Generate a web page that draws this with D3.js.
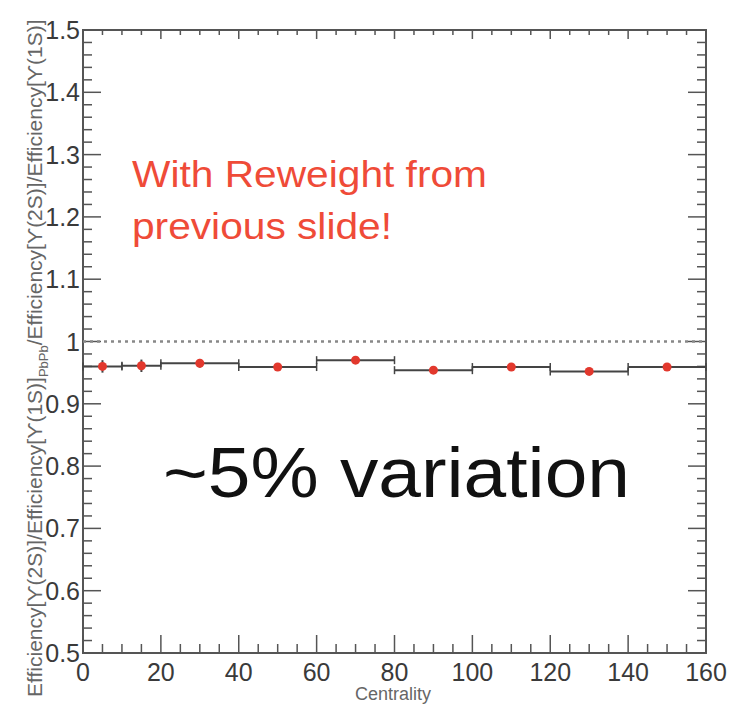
<!DOCTYPE html>
<html>
<head>
<meta charset="utf-8">
<script src="https://cdn.jsdelivr.net/npm/d3@7"></script>
<style>
  body { margin: 0; background: #fff; }
  svg { font-family: "Liberation Sans", Arial, sans-serif; }
</style>
</head>
<body>
<svg id="chart" width="731" height="707"></svg>
<script>
// data
var binLo = [0, 10, 20, 40, 60, 80, 100, 120, 140];
var binHi = [10, 20, 40, 60, 80, 100, 120, 140, 160];
var centers = [5, 15, 30, 50, 70, 90, 110, 130, 150];
var ratio = [0.960, 0.961, 0.965, 0.959, 0.970, 0.954, 0.959, 0.952, 0.959];
var yErr = [0.010, 0.010, 0.007, 0.006, 0.005, 0.004, 0.004, 0.004, 0.004];
var xTicks = [0, 20, 40, 60, 80, 100, 120, 140, 160];
var yTicks = [0.5, 0.6, 0.7, 0.8, 0.9, 1, 1.1, 1.2, 1.3, 1.4, 1.5];

var mLeft = 83, mRight = 706, mTop = 30, mBottom = 653;

var svg = d3.select("#chart");

var x = d3.scaleLinear().domain([0, 160]).range([mLeft, mRight]);
var y = d3.scaleLinear().domain([0.5, 1.5]).range([mBottom, mTop]);

var axisColor = "#555";
var g = svg.append("g");

// frame
g.append("rect")
  .attr("x", mLeft).attr("y", mTop)
  .attr("width", mRight - mLeft).attr("height", mBottom - mTop)
  .attr("fill", "none").attr("stroke", axisColor).attr("stroke-width", 2);

// x ticks (bottom inward, top short)
var xMinor = d3.range(0, 161, 5);
g.selectAll(".xt").data(xMinor).enter().append("line")
  .attr("x1", function(d) { return x(d); })
  .attr("x2", function(d) { return x(d); })
  .attr("y1", mBottom)
  .attr("y2", function(d) { return d % 20 === 0 ? mBottom - 18 : mBottom - 9; })
  .attr("stroke", axisColor).attr("stroke-width", 1.5);
g.selectAll(".xtt").data(xMinor).enter().append("line")
  .attr("x1", function(d) { return x(d); })
  .attr("x2", function(d) { return x(d); })
  .attr("y1", mTop)
  .attr("y2", function(d) { return d % 20 === 0 ? mTop + 9 : mTop + 5; })
  .attr("stroke", axisColor).attr("stroke-width", 1.5);

// y ticks (left and right, inward)
var yMinor = d3.range(0, 51).map(function(i) { return 0.5 + i * 0.02; });
g.selectAll(".yt").data(yMinor).enter().append("line")
  .attr("y1", function(d) { return y(d); })
  .attr("y2", function(d) { return y(d); })
  .attr("x1", mLeft)
  .attr("x2", function(d, i) { return i % 5 === 0 ? mLeft + 18 : mLeft + 9; })
  .attr("stroke", axisColor).attr("stroke-width", 1.5);
g.selectAll(".ytr").data(yMinor).enter().append("line")
  .attr("y1", function(d) { return y(d); })
  .attr("y2", function(d) { return y(d); })
  .attr("x1", mRight)
  .attr("x2", function(d, i) { return i % 5 === 0 ? mRight - 18 : mRight - 9; })
  .attr("stroke", axisColor).attr("stroke-width", 1.5);

// tick labels
g.selectAll(".xl").data(xTicks).enter().append("text")
  .attr("x", function(d) { return x(d); })
  .attr("y", 681)
  .attr("text-anchor", "middle")
  .attr("font-size", 25)
  .attr("fill", "#3a3a3a")
  .text(function(d) { return d; });

g.selectAll(".yl").data(yTicks).enter().append("text")
  .attr("x", mLeft - 3)
  .attr("y", function(d) { return y(d) + 9; })
  .attr("text-anchor", "end")
  .attr("font-size", 25)
  .attr("fill", "#3a3a3a")
  .text(function(d) { return d === 1 ? "1" : d3.format(".1f")(d); });

// axis titles
svg.append("text")
  .attr("x", 393).attr("y", 700)
  .attr("text-anchor", "middle")
  .attr("font-size", 18)
  .attr("fill", "#666")
  .text("Centrality");

var yt = svg.append("text")
  .attr("transform", "translate(42,697) rotate(-90)")
  .attr("x", 0).attr("y", 0)
  .attr("text-anchor", "start")
  .attr("font-size", 21)
  .attr("fill", "#666");
yt.append("tspan").text("Efficiency[\u03d2(2S)]/Efficiency[\u03d2(1S)]");
yt.append("tspan").attr("font-size", 13).attr("dy", 6).text("PbPb");
yt.append("tspan").attr("dy", -6).text("/Efficiency[\u03d2(2S)]/Efficiency[\u03d2(1S)]");

// dotted reference line at 1
g.append("line")
  .attr("x1", mLeft).attr("x2", mRight)
  .attr("y1", y(1)).attr("y2", y(1))
  .attr("stroke", "#888").attr("stroke-width", 2.5)
  .attr("stroke-dasharray", "3,4");

// x error bars with end caps
var lineColor = "#444";
var pts = centers.map(function(c, i) {
  return { c: c, lo: binLo[i], hi: binHi[i], v: ratio[i], e: yErr[i] };
});

g.selectAll(".xe").data(pts).enter().append("line")
  .attr("x1", function(d) { return x(d.lo); })
  .attr("x2", function(d) { return x(d.hi); })
  .attr("y1", function(d) { return y(d.v); })
  .attr("y2", function(d) { return y(d.v); })
  .attr("stroke", lineColor).attr("stroke-width", 2);

var caps = [];
pts.forEach(function(d) { caps.push({ xv: d.lo, v: d.v }); caps.push({ xv: d.hi, v: d.v }); });
g.selectAll(".cap").data(caps).enter().append("line")
  .attr("x1", function(d) { return x(d.xv); })
  .attr("x2", function(d) { return x(d.xv); })
  .attr("y1", function(d) { return y(d.v) - 4; })
  .attr("y2", function(d) { return y(d.v) + 4; })
  .attr("stroke", lineColor).attr("stroke-width", 1.5);

// y error bars
g.selectAll(".ye").data(pts).enter().append("line")
  .attr("x1", function(d) { return x(d.c); })
  .attr("x2", function(d) { return x(d.c); })
  .attr("y1", function(d) { return y(d.v - d.e); })
  .attr("y2", function(d) { return y(d.v + d.e); })
  .attr("stroke", lineColor).attr("stroke-width", 2);

// markers
g.selectAll(".pt").data(pts).enter().append("circle")
  .attr("cx", function(d) { return x(d.c); })
  .attr("cy", function(d) { return y(d.v); })
  .attr("r", 4.5)
  .attr("fill", "#e2382d");

// annotations
svg.append("text")
  .attr("x", 132).attr("y", 187)
  .attr("font-size", 36)
  .attr("fill", "#ef4b38")
  .attr("textLength", 355).attr("lengthAdjust", "spacingAndGlyphs")
  .text("With Reweight from");
svg.append("text")
  .attr("x", 132).attr("y", 239)
  .attr("font-size", 36)
  .attr("fill", "#ef4b38")
  .attr("textLength", 260).attr("lengthAdjust", "spacingAndGlyphs")
  .text("previous slide!");

svg.append("text")
  .attr("x", 163).attr("y", 497)
  .attr("font-size", 70)
  .attr("fill", "#111")
  .attr("textLength", 467).attr("lengthAdjust", "spacingAndGlyphs")
  .text("~5% variation");
</script>
</body>
</html>
